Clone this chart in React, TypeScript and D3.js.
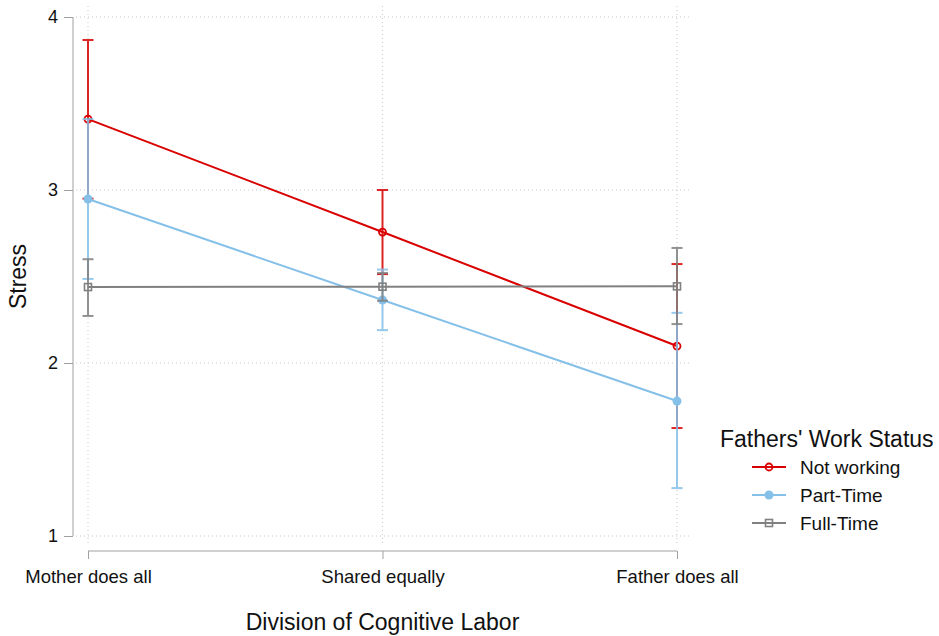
import React, { useEffect, useRef } from 'react';
import * as d3 from 'd3';

const categories = ['Mother does all', 'Shared equally', 'Father does all'];
const seriesNames = ['Not working', 'Part-Time', 'Full-Time'];
const seriesColors = ['#d90000', '#85c0e9', '#808080'];
const means = [
  [3.41, 2.757, 2.098],
  [2.948, 2.364, 1.78],
  [2.439, 2.441, 2.443],
];
const lowers = [
  [2.95, 2.514, 1.624],
  [2.486, 2.19, 1.277],
  [2.272, 2.36, 2.225],
];
const uppers = [
  [3.867, 3.0, 2.572],
  [3.41, 2.54, 2.29],
  [2.6, 2.52, 2.665],
];
const yTicks = [1, 2, 3, 4];

const FONT = 'Liberation Sans, Arial, sans-serif';

const App = () => {
  const svgRef = useRef<SVGSVGElement>(null);

  useEffect(() => {
    const svg = d3.select(svgRef.current);
    svg.selectAll('*').remove();

    const width = 939;
    const height = 636;
    const x = d3.scalePoint<string>().domain(categories).range([88, 677]);
    const y = d3.scaleLinear().domain([1, 4]).range([536, 17]);

    // grid
    const grid = svg.append('g').attr('stroke', '#c8c8c8').attr('stroke-dasharray', '1,3');
    grid.selectAll('line.h').data(yTicks).join('line')
      .attr('x1', 76).attr('x2', 690)
      .attr('y1', d => y(d)).attr('y2', d => y(d));
    grid.selectAll('line.v').data(categories).join('line')
      .attr('x1', d => x(d)!).attr('x2', d => x(d)!)
      .attr('y1', 6).attr('y2', 546);

    // y axis
    svg.append('g')
      .attr('transform', 'translate(73,0)')
      .call(d3.axisLeft(y).tickValues(yTicks).tickSize(9).tickPadding(6).tickFormat(d3.format('d')))
      .call(g => g.select('.domain').attr('stroke', '#a0a0a0').attr('d', `M0,${y(4)}V${y(1)}`))
      .call(g => g.selectAll('.tick line').attr('stroke', '#a0a0a0'))
      .call(g => g.selectAll('.tick text').attr('font-family', FONT).attr('font-size', 18).attr('fill', '#111'));

    // x axis
    svg.append('g')
      .attr('transform', 'translate(0,551)')
      .call(d3.axisBottom(x).tickSize(8).tickPadding(11))
      .call(g => g.select('.domain').attr('stroke', '#a0a0a0').attr('d', `M${x(categories[0])},0H${x(categories[2])}`))
      .call(g => g.selectAll('.tick line').attr('stroke', '#a0a0a0'))
      .call(g => g.selectAll('.tick text').attr('font-family', FONT).attr('font-size', 18.5).attr('fill', '#111'));

    // axis titles
    svg.append('text')
      .attr('transform', `translate(26,${(y(4) + y(1)) / 2}) rotate(-90)`)
      .attr('text-anchor', 'middle')
      .attr('font-family', FONT).attr('font-size', 23).attr('fill', '#111')
      .text('Stress');
    svg.append('text')
      .attr('x', x(categories[1])!).attr('y', 630)
      .attr('text-anchor', 'middle')
      .attr('font-family', FONT).attr('font-size', 23).attr('fill', '#111')
      .text('Division of Cognitive Labor');

    const line = d3.line<number>()
      .x((_, i) => x(categories[i])!)
      .y(d => y(d));

    seriesNames.forEach((name, s) => {
      const color = seriesColors[s];
      const g = svg.append('g');
      // error bars
      categories.forEach((c, i) => {
        const cx = x(c)!;
        const eb = g.append('g').attr('stroke', color).attr('stroke-width', 2).attr('opacity', 0.85);
        eb.append('line').attr('x1', cx).attr('x2', cx).attr('y1', y(lowers[s][i])).attr('y2', y(uppers[s][i]));
        eb.append('line').attr('x1', cx - 5.5).attr('x2', cx + 5.5).attr('y1', y(lowers[s][i])).attr('y2', y(lowers[s][i]));
        eb.append('line').attr('x1', cx - 5.5).attr('x2', cx + 5.5).attr('y1', y(uppers[s][i])).attr('y2', y(uppers[s][i]));
      });
      g.append('path').datum(means[s]).attr('d', line)
        .attr('fill', 'none').attr('stroke', color).attr('stroke-width', 2);
      means[s].forEach((v, i) => {
        drawMarker(g, s, x(categories[i])!, y(v), color);
      });
    });

    // legend
    const lg = svg.append('g');
    lg.append('text').attr('x', 720).attr('y', 447)
      .attr('font-family', FONT).attr('font-size', 23).attr('fill', '#111')
      .text("Fathers' Work Status");
    seriesNames.forEach((name, s) => {
      const ly = 467 + s * 28;
      lg.append('line').attr('x1', 752).attr('x2', 786).attr('y1', ly).attr('y2', ly)
        .attr('stroke', seriesColors[s]).attr('stroke-width', 2);
      drawMarker(lg, s, 769, ly, seriesColors[s]);
      lg.append('text').attr('x', 800).attr('y', ly + 7)
        .attr('font-family', FONT).attr('font-size', 19).attr('fill', '#111')
        .text(name);
    });

    svg.attr('width', width).attr('height', height);
  }, []);

  return <svg ref={svgRef} style={{ position: 'absolute', left: 0, top: 0 }}></svg>;
};

function drawMarker(g: any, s: number, cx: number, cy: number, color: string) {
  if (s === 0) {
    g.append('circle').attr('cx', cx).attr('cy', cy).attr('r', 3.5)
      .attr('fill', 'none').attr('stroke', color).attr('stroke-width', 1.8);
  } else if (s === 1) {
    g.append('circle').attr('cx', cx).attr('cy', cy).attr('r', 4.5).attr('fill', color);
  } else {
    g.append('rect').attr('x', cx - 3.5).attr('y', cy - 3.5).attr('width', 7).attr('height', 7)
      .attr('fill', 'none').attr('stroke', color).attr('stroke-width', 1.6);
  }
}

export default App;
